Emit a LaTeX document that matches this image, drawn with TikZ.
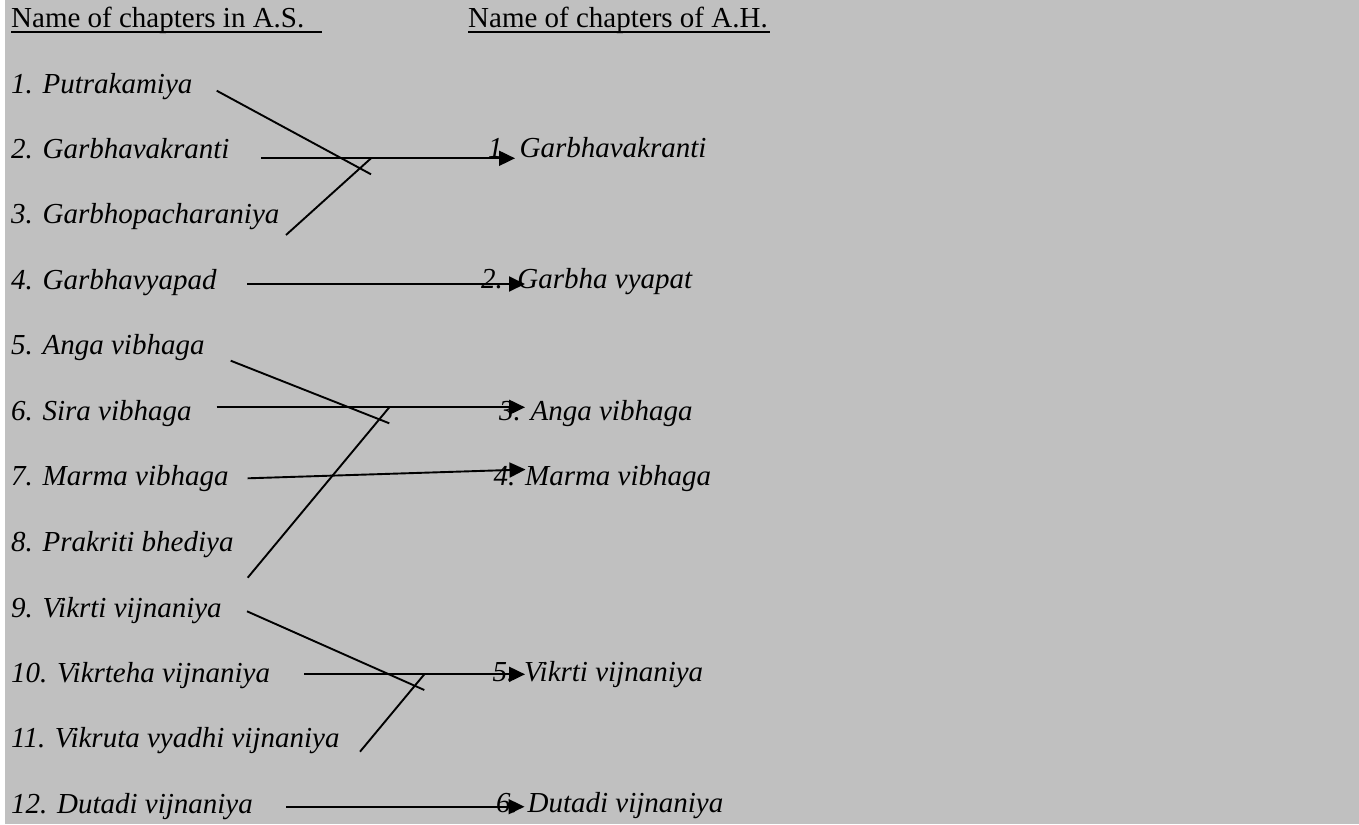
\documentclass[tikz,border=0pt]{standalone}
\usepackage{fontspec}
\setmainfont{Liberation Serif}
\usepackage{tikz}
\usetikzlibrary{arrows.meta}
\definecolor{pagegray}{RGB}{192,192,192}
\newcommand{\chapfont}{\fontsize{29}{34}\selectfont}

\begin{document}
\begin{tikzpicture}[x=1pt,y=-1pt,
		every node/.style={anchor=base west,inner sep=0pt,font=\chapfont\itshape},
		head/.style={font=\chapfont\upshape},
		uline/.style={line width=1.4pt},
		link/.style={line width=1.9pt},
		arr/.style={link,-{Triangle[length=16pt,width=15pt]}}]
		\useasboundingbox (0,0) rectangle (1359,824);
		\fill[white] (0,0) rectangle (1359,824);
		\fill[pagegray] (5,0) rectangle (1359,824);

		\path (11,28) node[head] (hs) {Name of chapters in A.S.}
		(468,28) node[head] (hh) {Name of chapters of A.H.}
		(11,93.3) node (s1) {1. Putrakamiya}
		(11,158.5) node (s2) {2. Garbhavakranti}
		(11,223.5) node (s3) {3. Garbhopacharaniya}
		(11,289) node (s4) {4. Garbhavyapad}
		(11,354.5) node (s5) {5. Anga vibhaga}
		(11,420) node (s6) {6. Sira vibhaga}
		(11,485.5) node (s7) {7. Marma vibhaga}
		(11,551) node (s8) {8. Prakriti bhediya}
		(11,617) node (s9) {9. Vikrti vijnaniya}
		(11,682) node (s10) {10. Vikrteha vijnaniya}
		(11,747.5) node (s11) {11. Vikruta vyadhi vijnaniya}
		(11,813) node (s12) {12. Dutadi vijnaniya}
		(488,157.5) node (h1) {1. Garbhavakranti}
		(481,288) node (h2) {2.\ \ Garbha vyapat}
		(499,420) node (h3) {3. Anga vibhaga}
		(493.5,485) node (h4) {4. Marma vibhaga}
		(492.5,681) node (h5) {5. Vikrti vijnaniya}
		(496,812) node (h6) {6. Dutadi vijnaniya};

		\coordinate (p1) at (216.7,90.7);
		\coordinate (j1) at (371,174.3);
		\coordinate (p2) at (261,158.3);
		\coordinate (k1) at (371,158.3);
		\coordinate (p3) at (286,235);
		\coordinate (t1) at (515,158.3);
		\coordinate (p4) at (247.3,284);
		\coordinate (t2) at (525,284);
		\coordinate (p5) at (230.7,360.7);
		\coordinate (j3) at (389.3,423.3);
		\coordinate (p6) at (216.7,407.3);
		\coordinate (k3) at (389.3,407.3);
		\coordinate (p8) at (247.7,577.7);
		\coordinate (t3) at (525,407.3);
		\coordinate (p7) at (247.7,478.3);
		\coordinate (t4) at (525.5,469.5);
		\coordinate (p9) at (247,611.3);
		\coordinate (j5) at (424.3,690);
		\coordinate (p10) at (304.3,674.3);
		\coordinate (k5) at (424.3,674.3);
		\coordinate (p11) at (360,751.7);
		\coordinate (t5) at (525,674.3);
		\coordinate (p12) at (286.3,806.7);
		\coordinate (t6) at (524.5,806.7);

		\draw[uline] ([yshift=-4pt]hs.base west) -- ([xshift=17pt,yshift=-4pt]hs.base east)
		([yshift=-4pt]hh.base west) -- ([xshift=2pt,yshift=-4pt]hh.base east);

		\draw[link] (p1) -- (j1)
		(p3) -- (k1)
		(p5) -- (j3)
		(p8) -- (k3)
		(p9) -- (j5)
		(p11) -- (k5);

		\draw[arr] (p2) -- (t1);
		\draw[arr] (p4) -- (t2);
		\draw[arr] (p6) -- (t3);
		\draw[arr] (p7) -- (t4);
		\draw[arr] (p10) -- (t5);
		\draw[arr] (p12) -- (t6);
	\end{tikzpicture}
\end{document}
